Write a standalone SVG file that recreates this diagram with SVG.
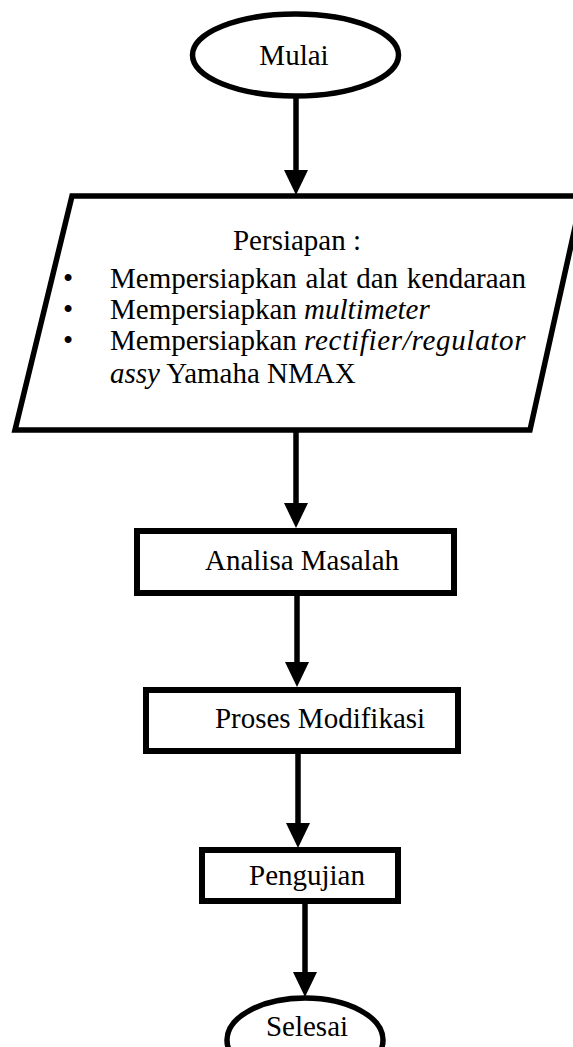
<svg xmlns="http://www.w3.org/2000/svg" width="573" height="1047" viewBox="0 0 573 1047">
<style>
.shape{fill:#fff;stroke:#000;stroke-width:5.5}
.box{fill:#fff;stroke:#000;stroke-width:6}
.t{font-family:'Liberation Serif','DejaVu Serif',serif;font-size:29px;fill:#000}
.c{text-anchor:middle}
.i{font-style:italic}
.ln{stroke:#000;stroke-width:5.5;fill:none}
.ah{fill:#000;stroke:none}
</style>
<rect width="573" height="1047" fill="#fff"/>
<g id="connectors">
<line class="ln" x1="296" y1="97" x2="296" y2="172"/>
<polygon class="ah" points="284,170 308,170 296,195"/>
<line class="ln" x1="296" y1="431" x2="296" y2="505"/>
<polygon class="ah" points="284,503 308,503 296,528"/>
<line class="ln" x1="297" y1="596" x2="297" y2="664"/>
<polygon class="ah" points="285,662 309,662 297,687"/>
<line class="ln" x1="298" y1="754" x2="298" y2="825"/>
<polygon class="ah" points="286,823 310,823 298,848"/>
<line class="ln" x1="305" y1="904" x2="305" y2="974"/>
<polygon class="ah" points="293,972 317,972 305,997"/>
</g>
<g id="mulai">
<ellipse class="shape" cx="295.5" cy="55" rx="103" ry="41"/>
<text class="t c" x="294" y="65">Mulai</text>
</g>
<g id="persiapan">
<polygon class="shape" points="72,196 582,196 530,430 15,430"/>
<text class="t c" x="297" y="250">Persiapan :</text>
<text class="t" x="63" y="288">•</text>
<text class="t" x="110" y="288" word-spacing="1.5">Mempersiapkan alat dan kendaraan</text>
<text class="t" x="63" y="319">•</text>
<text class="t" x="110" y="319">Mempersiapkan <tspan class="i">multimeter</tspan></text>
<text class="t" x="63" y="350">•</text>
<text class="t" x="110" y="350">Mempersiapkan <tspan class="i" letter-spacing="0.7">rectifier/regulator</tspan></text>
<text class="t" x="110" y="383"><tspan class="i">assy</tspan> Yamaha NMAX</text>
</g>
<g id="analisa">
<rect class="box" x="137" y="531" width="317" height="62"/>
<text class="t c" x="302" y="570">Analisa Masalah</text>
</g>
<g id="proses">
<rect class="box" x="146" y="690" width="312" height="61"/>
<text class="t c" x="320" y="728">Proses Modifikasi</text>
</g>
<g id="pengujian">
<rect class="box" x="202" y="850" width="196" height="51"/>
<text class="t c" x="307" y="885">Pengujian</text>
</g>
<g id="selesai">
<ellipse class="shape" cx="305" cy="1040" rx="78" ry="42"/>
<text class="t c" x="307" y="1036">Selesai</text>
</g>
</svg>
